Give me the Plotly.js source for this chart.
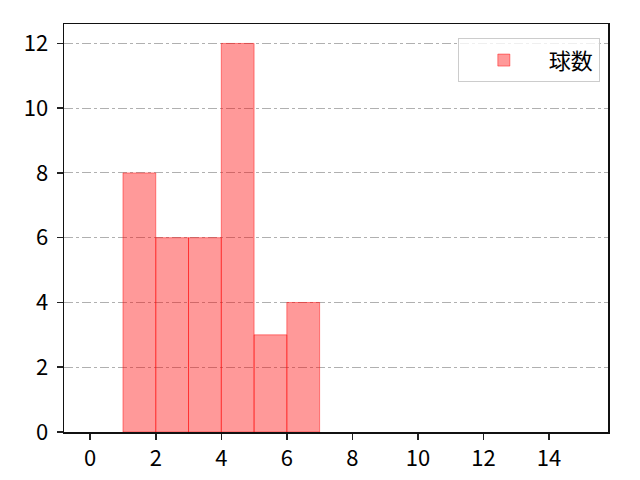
<!DOCTYPE html>
<html>
<head>
<meta charset="utf-8">
<script src="https://cdn.plot.ly/plotly-3.0.1.min.js"></script>
<style>
  body { margin: 0; background: #fff; }
  #chart { width: 640px; height: 480px; }
</style>
</head>
<body>
<div id="chart"></div>
<script>
// histogram bins (left edges) and counts
const binStarts = [1, 2, 3, 4, 5, 6];
const counts = [8, 6, 6, 12, 3, 4];
const seriesName = '球数';
const xTicks = [0, 2, 4, 6, 8, 10, 12, 14];
const yTicks = [0, 2, 4, 6, 8, 10, 12];

const font = '"Noto Sans CJK JP", "DejaVu Sans", sans-serif';

const trace = {
  type: 'bar',
  x: binStarts,
  y: counts,
  offset: 0,
  width: 1,
  name: seriesName,
  showlegend: true,
  marker: {
    color: 'rgba(255,0,0,0.4)',
    line: { color: 'rgba(255,0,0,0.45)', width: 1 }
  },
  hoverinfo: 'x+y'
};

const axisBase = {
  showline: true,
  mirror: true,
  linecolor: '#111',
  linewidth: 1.5,
  ticks: 'outside',
  ticklen: 6,
  tickwidth: 1.5,
  tickcolor: '#222',
  zeroline: false,
  tickfont: { family: font, size: 22, color: '#000' }
};

const layout = {
  width: 640,
  height: 480,
  margin: { l: 64, r: 32, t: 24, b: 48 },
  paper_bgcolor: '#fff',
  plot_bgcolor: '#fff',
  bargap: 0,
  xaxis: Object.assign({}, axisBase, {
    range: [-0.8, 15.8],
    tickvals: xTicks,
    showgrid: false
  }),
  yaxis: Object.assign({}, axisBase, {
    range: [0, 12.6],
    tickvals: yTicks,
    showgrid: true,
    gridcolor: '#b0b0b0',
    gridwidth: 1,
    griddash: 'dashdot',
    ticklabelstandoff: 4
  }),
  legend: {
    x: 0.985, y: 0.965,
    xanchor: 'right', yanchor: 'top',
    bgcolor: 'rgba(255,255,255,0.8)',
    bordercolor: '#cccccc',
    borderwidth: 1,
    itemwidth: 80,
    font: { family: font, size: 22, color: '#000' }
  },
  showlegend: true
};

Plotly.newPlot('chart', [trace], layout, { displayModeBar: false, staticPlot: true });
</script>
</body>
</html>
